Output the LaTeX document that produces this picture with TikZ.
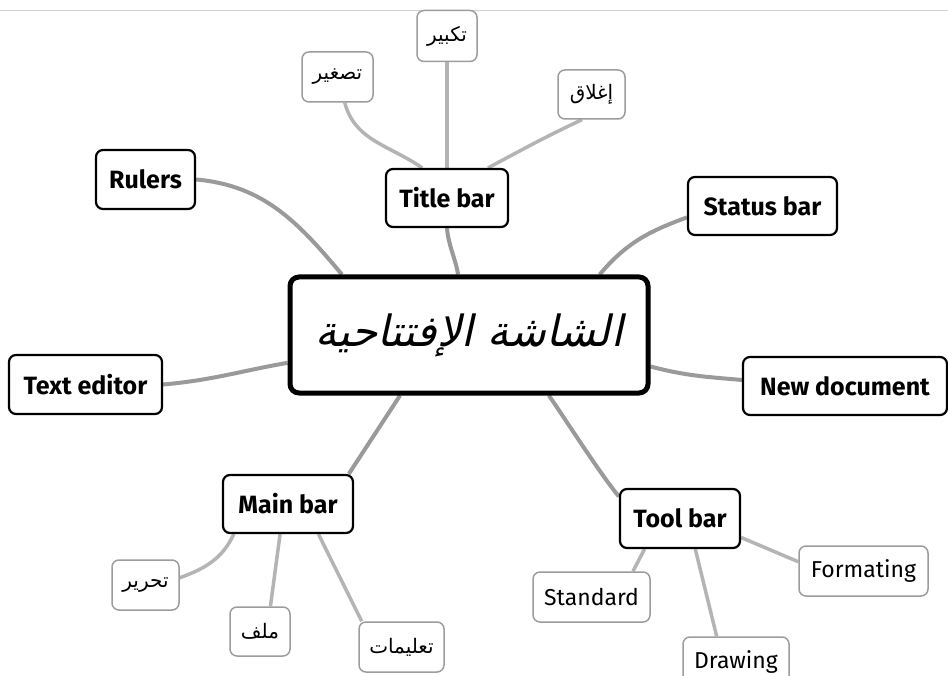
\documentclass[tikz,border=0pt]{standalone}
\usepackage{fontspec}
\setmainfont{Fira Sans}
\newfontfamily\arabicfont[Script=Arabic]{DejaVu Sans}
\newfontfamily\arabicslant[Script=Arabic,FakeSlant=0.22]{DejaVu Sans}
\TeXXeTstate=1
\usetikzlibrary{calc,backgrounds}
\definecolor{mainline}{HTML}{9A9A9A}
\definecolor{subline}{HTML}{B4B4B4}
\definecolor{subborder}{HTML}{9C9C9C}
\definecolor{topline}{HTML}{D2D2D2}
\tikzset{
 box/.style={rectangle, rounded corners=7pt, fill=white, inner sep=0pt, align=center},
 centralbox/.style={box, draw=black, line width=5pt, rounded corners=9pt, font=\arabicslant\fontsize{43}{51}\selectfont},
 mainbox/.style={box, draw=black, line width=2.2pt, font=\bfseries\fontsize{25}{29}\selectfont},
 subbox/.style={box, draw=subborder, line width=1.5pt, font=\fontsize{23}{27}\selectfont},
 arbox/.style={subbox, font=\arabicfont\fontsize{20}{24}\selectfont},
 mainlink/.style={draw=mainline, line width=4pt},
 sublink/.style={draw=subline, line width=3.5pt},
}
\begin{document}
\begin{tikzpicture}[x=1pt,y=1pt]
\useasboundingbox (0,0) rectangle (948,-676);
\clip (0,0) rectangle (948,-676);
% nodes
\node[centralbox, minimum width=358pt, minimum height=116pt] (central) at (469,-335) {\beginR الشاشة الإفتتاحية\endR};
\node[mainbox, minimum width=122pt, minimum height=58pt] (title) at (447,-198) {Title bar};
\node[arbox, minimum width=60pt, minimum height=51pt] (takbir) at (447,-36) {\beginR تكبير\endR};
\node[arbox, minimum width=71pt, minimum height=50pt] (tasghir) at (337.5,-77) {\beginR تصغير\endR};
\node[arbox, minimum width=67pt, minimum height=49pt] (ighlaq) at (591.5,-94.5) {\beginR إغلاق\endR};
\node[mainbox, minimum width=99pt, minimum height=59pt] (rulers) at (145.5,-179.5) {Rulers};
\node[mainbox, minimum width=153pt, minimum height=59pt] (textedit) at (85.5,-384.5) {Text editor};
\node[mainbox, minimum width=149pt, minimum height=58pt] (status) at (762.5,-206) {Status bar};
\node[mainbox, minimum width=204pt, minimum height=58pt] (newdoc) at (845,-386) {New document};
\node[mainbox, minimum width=130pt, minimum height=58pt] (mainbar) at (288,-504) {Main bar};
\node[arbox, minimum width=67pt, minimum height=50pt] (tahrir) at (145.5,-585) {\beginR تحرير\endR};
\node[arbox, minimum width=60pt, minimum height=49pt] (milaf) at (260,-631.5) {\beginR ملف\endR};
\node[arbox, minimum width=85pt, minimum height=50pt] (talimat) at (401.5,-647) {\beginR تعليمات\endR};
\node[mainbox, minimum width=120pt, minimum height=59pt] (toolbar) at (680,-518.5) {Tool bar};
\node[subbox, minimum width=117pt, minimum height=50pt] (standard) at (591.5,-597) {Standard};
\node[subbox, minimum width=129pt, minimum height=50pt] (formating) at (863.5,-571) {Formating};
\node[subbox, minimum width=106pt, minimum height=50pt] (drawing) at (736,-662) {Drawing};
% connectors
\begin{scope}[on background layer]
\fill[white] (0,0) rectangle (948,-676);
\draw[topline, line width=1pt] (0,-11) -- (948,-11);
\draw[mainlink] (rulers.east) to[out=-5,in=130] ($(central.north west)!0.15!(central.north east)$);
\draw[mainlink] (title.south) to[out=-85,in=100] ($(central.north west)!0.47!(central.north east)$);
\draw[mainlink] ($(central.north west)!0.86!(central.north east)$) to[out=50,in=200] ($(status.north west)!0.69!(status.south west)$);
\draw[mainlink] (textedit.east) to[out=5,in=190] ($(central.north west)!0.73!(central.south west)$);
\draw[mainlink] ($(central.north east)!0.76!(central.south east)$) to[out=-15,in=175] ($(newdoc.north west)!0.4!(newdoc.south west)$);
\draw[mainlink] ($(central.south west)!0.31!(central.south east)$) -- ($(mainbar.north west)!0.96!(mainbar.north east)$);
\draw[mainlink] ($(central.south west)!0.72!(central.south east)$) to[out=-55,in=130,looseness=0.6] ($(toolbar.north west)!0.14!(toolbar.south west)$);
\draw[sublink] ($(title.north west)!0.3!(title.north east)$) to[out=145,in=-75] ($(tasghir.south west)!0.6!(tasghir.south east)$);
\draw[sublink] (takbir.south) -- (title.north);
\draw[sublink] ($(title.north west)!0.83!(title.north east)$) to[out=28,in=-155] ($(ighlaq.south west)!0.36!(ighlaq.south east)$);
\draw[sublink] ($(mainbar.south west)!0.09!(mainbar.south east)$) to[out=-115,in=20] ($(tahrir.north east)!0.36!(tahrir.south east)$);
\draw[sublink] ($(mainbar.south west)!0.44!(mainbar.south east)$) -- ($(milaf.north west)!0.67!(milaf.north east)$);
\draw[sublink] ($(mainbar.south west)!0.73!(mainbar.south east)$) -- ($(talimat.north west)!0.04!(talimat.north east)$);
\draw[sublink] ($(toolbar.south west)!0.21!(toolbar.south east)$) -- ($(standard.north west)!0.85!(standard.north east)$);
\draw[sublink] ($(toolbar.south west)!0.625!(toolbar.south east)$) -- ($(drawing.north west)!0.32!(drawing.north east)$);
\draw[sublink] ($(toolbar.north east)!0.81!(toolbar.south east)$) -- ($(formating.north west)!0.32!(formating.south west)$);
\end{scope}
\end{tikzpicture}
\end{document}
